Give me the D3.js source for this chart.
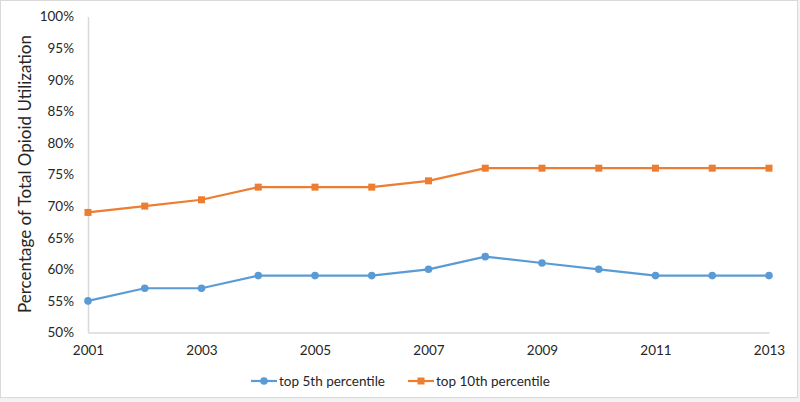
<html>
<head>
<meta charset="utf8">
<title>Opioid utilization</title>
<style>
body { margin:0; background:#ffffff; }
#chart { width:800px; height:402px; }
</style>
<script src="https://d3js.org/d3.v7.min.js"></script>
</head>
<body>
<div id="chart"></div>
<script>
var width = 800;  // canvas width
var height = 402; // canvas height

var years = [2001, 2002, 2003, 2004, 2005, 2006, 2007, 2008, 2009, 2010, 2011, 2012, 2013];
var top5 = [55, 57, 57, 59, 59, 59, 60, 62, 61, 60, 59, 59, 59];
var top10 = [69, 70, 71, 73, 73, 73, 74, 76, 76, 76, 76, 76, 76];
var yTicks = [50, 55, 60, 65, 70, 75, 80, 85, 90, 95, 100];
var xTicks = [2001, 2003, 2005, 2007, 2009, 2011, 2013];
var seriesNames = ["top 5th percentile", "top 10th percentile"];

var blue = "#5b9bd5", orange = "#ed7d31", axisGray = "#d9d9d9";
var font = "Lato, 'Open Sans', sans-serif";
var textColor = "#262626";

var svg = d3.select("#chart").append("svg")
    .attr("width", width)
    .attr("height", height);

// frame around the chart
svg.append("rect").attr("x", 0).attr("y", 0).attr("width", width).attr("height", height).style("fill", "#f2f2f2");
svg.append("rect").attr("x", 0.5).attr("y", 0.5).attr("width", 797).attr("height", 397)
    .style("fill", "white").style("stroke", axisGray);

var x = d3.scaleLinear().domain([2001, 2013]).range([88, 769]);
var y = d3.scaleLinear().domain([50, 100]).range([332.5, 16.5]);

// y axis
var yAxis = svg.append("g").attr("transform", "translate(88,0)")
    .call(d3.axisLeft(y).tickValues(yTicks).tickSize(0).tickPadding(14).tickFormat(function(d){ return d + "%"; }));
yAxis.select(".domain").attr("stroke", axisGray).attr("stroke-width", 1.5);
yAxis.selectAll("text").attr("font-family", font).attr("font-size", 13.5).attr("fill", textColor);

// x axis
var xAxis = svg.append("g").attr("transform", "translate(0,332.5)")
    .call(d3.axisBottom(x).tickValues(xTicks).tickSize(0).tickPadding(13).tickFormat(d3.format("d")));
xAxis.select(".domain").attr("stroke", axisGray).attr("stroke-width", 1.5);
xAxis.selectAll("text").attr("font-family", font).attr("font-size", 13.5).attr("fill", textColor);

// y axis title
svg.append("text")
    .attr("transform", "translate(31,174) rotate(-90)")
    .attr("text-anchor", "middle")
    .attr("font-family", font).attr("font-size", 17).attr("fill", textColor)
    .text("Percentage of Total Opioid Utilization");

var line = d3.line().x(function(d, i){ return x(years[i]); }).y(function(d){ return y(d); });

// series lines
svg.append("path").datum(top10).attr("d", line)
    .style("fill", "none").style("stroke", orange).style("stroke-width", 2.2);
svg.append("path").datum(top5).attr("d", line)
    .style("fill", "none").style("stroke", blue).style("stroke-width", 2.2);

// markers
svg.selectAll(".sq").data(top10).enter().append("rect")
    .attr("x", function(d, i){ return x(years[i]) - 3.5; })
    .attr("y", function(d){ return y(d) - 3.5; })
    .attr("width", 7).attr("height", 7)
    .style("fill", orange);
svg.selectAll(".dot").data(top5).enter().append("circle")
    .attr("cx", function(d, i){ return x(years[i]); })
    .attr("cy", function(d){ return y(d); })
    .attr("r", 3.8)
    .style("fill", blue);

// legend
var ly = 381;
var legend = [
    { name: seriesNames[0], color: blue, x: 251, shape: "circle" },
    { name: seriesNames[1], color: orange, x: 408, shape: "square" }
];
legend.forEach(function(l){
    svg.append("line").attr("x1", l.x).attr("x2", l.x + 26).attr("y1", ly).attr("y2", ly)
        .attr("stroke", l.color).attr("stroke-width", 2.2);
    if (l.shape == "circle") {
        svg.append("circle").attr("cx", l.x + 13).attr("cy", ly).attr("r", 3.8).style("fill", l.color);
    } else {
        svg.append("rect").attr("x", l.x + 9.5).attr("y", ly - 3.5).attr("width", 7).attr("height", 7).style("fill", l.color);
    }
    svg.append("text").attr("x", l.x + 28).attr("y", ly + 4.5)
        .attr("font-family", font).attr("font-size", 13.5).attr("fill", textColor)
        .text(l.name);
});
</script>
</body>
</html>
